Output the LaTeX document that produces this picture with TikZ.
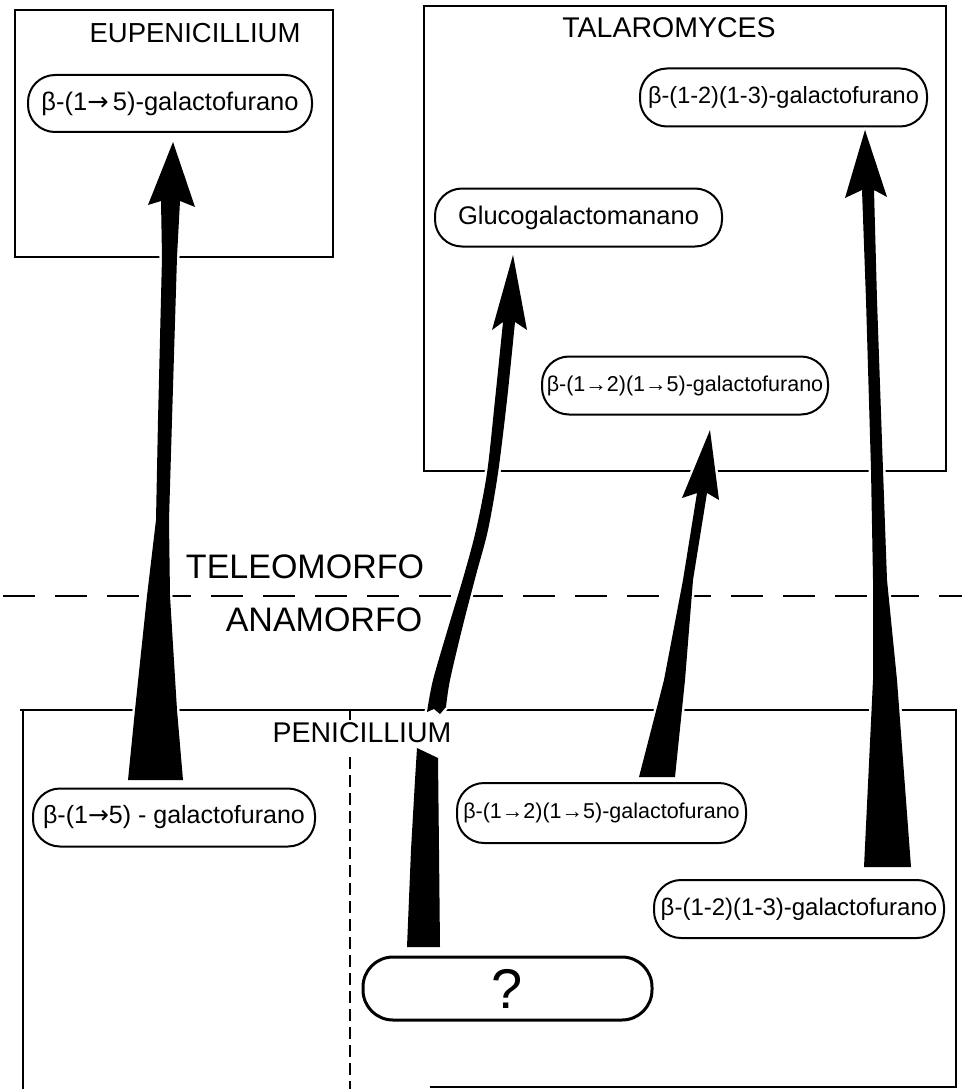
\documentclass[tikz,border=0pt]{standalone}
\usepackage{fontspec}
\setmainfont{Liberation Sans}
\newfontfamily\arrowfont{DejaVu Sans}
\begin{document}
\begin{tikzpicture}[x=1pt,y=-1pt,
  frame/.style={line width=1.8pt},
  pill/.style={draw, line width=2pt, rounded corners=27pt, inner sep=0pt, minimum height=58pt},
  title/.style={inner sep=0pt},
  arrowbody/.style={fill=black, preaction={draw=white, line width=5pt, line join=round}},
  hdash/.style={line width=1.8pt, dash pattern=on 32pt off 20pt},
  vdash/.style={line width=1.6pt, dash pattern=on 12pt off 6pt}]
\useasboundingbox (0,0) rectangle (962,1089);
% frames
\draw[frame] (15,10) rectangle (333,257);
\draw[frame] (424,6) rectangle (946,471);
\draw[frame] (20,710) -- (956,710) -- (956,1087) -- (430,1087);
\draw[frame] (23,710) -- (23,1089);
% separators
\draw[hdash] (3,596) -- (962,596);
\draw[line width=1.6pt] (350,711) -- (350,720);
\draw[vdash] (350,757) -- (350,1089);
% titles
\node[title, font=\fontsize{27.5}{32}\selectfont] (eu) at (195,33) {EUPENICILLIUM};
\node[title, font=\fontsize{28.5}{32}\selectfont] (ta) at (669,28) {TALAROMYCES};
\node[title, font=\fontsize{28.5}{32}\selectfont] (pe) at (362,733) {PENICILLIUM};
\node[title, font=\fontsize{34}{40}\selectfont] (tel) at (305,567) {TELEOMORFO};
\node[title, font=\fontsize{34}{40}\selectfont] (ana) at (324,620) {ANAMORFO};
% pills
\node[pill, minimum width=284pt, minimum height=57pt, font=\fontsize{25.5}{30}\selectfont] (p1) at (170,103.5) {β-(1{\arrowfont →}\,5)-galactofurano};
\node[pill, minimum width=287pt, font=\fontsize{25.5}{30}\selectfont] (p2) at (578.5,217.5) {Glucogalactomanano};
\node[pill, minimum width=287pt, font=\fontsize{23.5}{30}\selectfont] (p3) at (783.5,97.5) {β-(1-2)(1-3)-galactofurano};
\node[pill, minimum width=286pt, font=\fontsize{21.5}{30}\selectfont] (p4) at (685,385.5) {β-(1→2)(1→5)-galactofurano};
\node[pill, minimum width=282pt, font=\fontsize{25}{30}\selectfont] (p5) at (174,817.5) {β-(1{\arrowfont →}5) - galactofurano};
\node[pill, minimum width=289pt, minimum height=60pt, font=\fontsize{21.5}{30}\selectfont] (p6) at (601.5,813) {β-(1→2)(1→5)-galactofurano};
\node[pill, minimum width=290pt, font=\fontsize{24}{30}\selectfont] (p7) at (799,909) {β-(1-2)(1-3)-galactofurano};
\node[pill, line width=3pt, rounded corners=30pt, minimum width=289pt, minimum height=63pt, font=\fontsize{56}{60}\selectfont] (p8) at (507.5,988.5) {?};
% arrows
\coordinate (t1) at (173,142);
\coordinate (t2) at (513,255);
\coordinate (t3) at (710,430);
\coordinate (t4) at (865,130);
\fill[arrowbody] (t1) -- (195,207) -- (180,201) -- (177,257) -- (172,420) -- (169,520) -- (170,596) -- (177,710) -- (183,780) -- (128,780) -- (135,710) -- (147,596) -- (156,520) -- (158,420) -- (162,257) -- (161,201) -- (148,205) -- cycle;
\fill[arrowbody] (t2) -- (527,330) -- plot[smooth] coordinates {(515,322) (507,400) (498,473) (488,530) (476,575) (463,625) (450,680) (446,707)} -- (440,714) -- (434,709) -- plot[smooth] coordinates {(427,712) (433,680) (449,625) (464,575) (476,530) (487,473) (495,400) (503,322)} -- (492,330) -- cycle;
\fill[arrowbody] (417,748) -- (438,758) -- (439,850) -- (440,947) -- (407,947) -- (411,850) -- (415,780) -- cycle;
\fill[arrowbody] (t3) -- (719,500) -- (707,493) -- (693,580) -- (685,680) -- (675,777) -- (639,777) -- (664,680) -- (683,580) -- (697,493) -- (682,498) -- cycle;
\fill[arrowbody] (t4) -- (887,197) -- (874,190) -- (877,300) -- (883,470) -- (887,580) -- (897,680) -- (911,867) -- (864,867) -- (873,680) -- (873,580) -- (871,470) -- (866,300) -- (862,190) -- (845,198) -- cycle;
\end{tikzpicture}
\end{document}
